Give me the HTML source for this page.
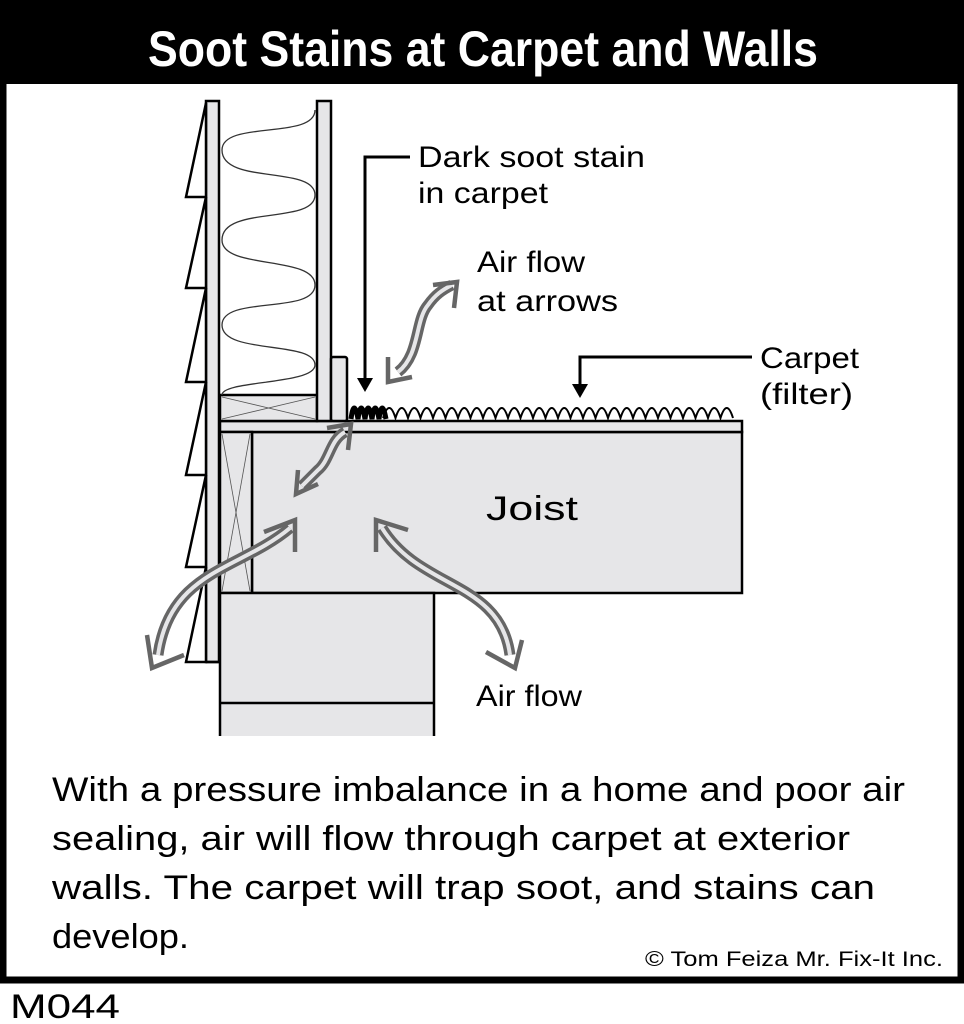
<!DOCTYPE html>
<html><head><meta charset="utf-8"><style>
body{margin:0;background:#fff;}
svg{display:block}
text{font-family:"Liberation Sans",sans-serif;}
</style></head><body>
<svg width="964" height="1024" viewBox="0 0 964 1024" xmlns="http://www.w3.org/2000/svg">
<rect x="0" y="0" width="964" height="1024" fill="#fff"/>
<rect x="0" y="0" width="964" height="84" fill="#000"/>
<rect x="3" y="3" width="958" height="977" fill="none" stroke="#000" stroke-width="7"/>
<text x="148" y="66" fill="#fff" font-size="50" font-weight="bold" textLength="670" lengthAdjust="spacingAndGlyphs">Soot Stains at Carpet and Walls</text>

<g stroke="#000" stroke-width="2.5" fill="#e6e6e8">
<rect x="252" y="432" width="490" height="161"/>
<rect x="220" y="421" width="522" height="11"/>
<rect x="220" y="432" width="32" height="161"/>
<rect x="220" y="593" width="214" height="145"/>
<rect x="206" y="101" width="13" height="561"/>
<rect x="220" y="395" width="97" height="26"/>
<rect x="317" y="101" width="14" height="320"/>
<rect x="331" y="357" width="16" height="64" rx="2"/>
</g>
<rect x="218" y="736" width="218" height="6" fill="#fff"/>
<line x1="220" y1="703" x2="434" y2="703" stroke="#000" stroke-width="2.5"/>
<line x1="206" y1="662" x2="220" y2="662" stroke="#000" stroke-width="2.5"/>
<g stroke="#555" stroke-width="0.8" fill="none">
<line x1="222" y1="397" x2="315" y2="419"/><line x1="222" y1="419" x2="315" y2="397"/>
<line x1="222" y1="434" x2="250" y2="591"/><line x1="250" y1="434" x2="222" y2="591"/>
</g>
<g stroke="#000" stroke-width="2.5" fill="#fff">
<path d="M206 103 L186 197 L206 197 Z"/>
<path d="M206 197 L186 288 L206 288 Z"/>
<path d="M206 288 L186 382 L206 382 Z"/>
<path d="M206 382 L186 475 L206 475 Z"/>
<path d="M206 475 L186 567 L206 567 Z"/>
<path d="M206 567 L186 662 L206 662 Z"/>
</g>
<path d="M315 110 C315 140 222 120 222 150 C222 185 315 165 315 195 C315 225 222 205 222 240 C222 270 315 255 315 285 C315 315 222 295 222 325 C222 355 315 340 315 365 C315 385 222 380 222 395" fill="none" stroke="#333" stroke-width="1.3"/>

<!-- carpet -->
<path d="M383 418 q6.25 -20 12.5 0 q6.25 -20 12.5 0 q6.25 -20 12.5 0 q6.25 -20 12.5 0 q6.25 -20 12.5 0 q6.25 -20 12.5 0 q6.25 -20 12.5 0 q6.25 -20 12.5 0 q6.25 -20 12.5 0 q6.25 -20 12.5 0 q6.25 -20 12.5 0 q6.25 -20 12.5 0 q6.25 -20 12.5 0 q6.25 -20 12.5 0 q6.25 -20 12.5 0 q6.25 -20 12.5 0 q6.25 -20 12.5 0 q6.25 -20 12.5 0 q6.25 -20 12.5 0 q6.25 -20 12.5 0 q6.25 -20 12.5 0 q6.25 -20 12.5 0 q6.25 -20 12.5 0 q6.25 -20 12.5 0 q6.25 -20 12.5 0 q6.25 -20 12.5 0 q6.25 -20 12.5 0 q6.25 -20 12.5 0" fill="none" stroke="#000" stroke-width="2"/>
<path d="M351 419 q3 -22 7 0 q3 -22 7 0 q3 -22 7 0 q3 -22 7 0 q3 -22 7 0" fill="none" stroke="#000" stroke-width="5"/>

<g stroke="#000" stroke-width="3" fill="none">
<polyline points="410,157 365,157 365,380"/>
<polyline points="752,357 580,357 580,388"/>
</g>
<polygon points="357,378 373,378 365,392" fill="#000"/>
<polygon points="572,384 588,384 580,398" fill="#000"/>

<g fill="none">
<g stroke="#666" stroke-width="11">
<path d="M398 372 C420 355 415 320 428 305 C435 295 442 290 452 285"/>
<path d="M345 432 C330 440 330 460 318 470 C312 476 308 480 302 486"/>
<path d="M290 528 C240 570 170 570 158 655"/>
<path d="M382 528 C420 590 500 580 510 655"/>
</g>
<g stroke="#e6e6e8" stroke-width="4">
<path d="M398 372 C420 355 415 320 428 305 C435 295 442 290 452 285"/>
<path d="M345 432 C330 440 330 460 318 470 C312 476 308 480 302 486"/>
<path d="M290 528 C240 570 170 570 158 655"/>
<path d="M382 528 C420 590 500 580 510 655"/>
</g>
<g stroke="#666" stroke-width="4.5">
<polyline points="433,285 457,282 454,308"/>
<polyline points="388,357 388,382 412,377"/>
<polyline points="327,428 351,424 348,450"/>
<polyline points="298,470 296,494 318,484"/>
<polyline points="264,532 295,520 295,552"/>
<polyline points="147,635 152,668 184,655"/>
<polyline points="376,552 376,520 408,530"/>
<polyline points="486,652 515,668 522,640"/>
</g>
</g>

<g font-size="30" fill="#000">
<text x="418" y="167" textLength="227" lengthAdjust="spacingAndGlyphs">Dark soot stain</text>
<text x="418" y="203" textLength="130" lengthAdjust="spacingAndGlyphs">in carpet</text>
<text x="477" y="272" textLength="108" lengthAdjust="spacingAndGlyphs">Air flow</text>
<text x="477" y="311" textLength="141" lengthAdjust="spacingAndGlyphs">at arrows</text>
<text x="760" y="368" textLength="99" lengthAdjust="spacingAndGlyphs">Carpet</text>
<text x="760" y="404" textLength="93" lengthAdjust="spacingAndGlyphs">(filter)</text>
<text x="486" y="520" font-size="34" textLength="92" lengthAdjust="spacingAndGlyphs">Joist</text>
<text x="476" y="706" textLength="106" lengthAdjust="spacingAndGlyphs">Air flow</text>
</g>
<g font-size="34" fill="#000">
<text x="52" y="801" textLength="853" lengthAdjust="spacingAndGlyphs">With a pressure imbalance in a home and poor air</text>
<text x="52" y="850" textLength="798" lengthAdjust="spacingAndGlyphs">sealing, air will flow through carpet at exterior</text>
<text x="52" y="899" textLength="823" lengthAdjust="spacingAndGlyphs">walls.  The carpet will trap soot, and stains can</text>
<text x="52" y="948" textLength="137" lengthAdjust="spacingAndGlyphs">develop.</text>
</g>
<text x="645" y="966" font-size="21" fill="#000" textLength="298" lengthAdjust="spacingAndGlyphs">© Tom Feiza Mr. Fix-It Inc.</text>
<text x="10" y="1018" font-size="34" fill="#000" textLength="110" lengthAdjust="spacingAndGlyphs">M044</text>
</svg>
</body></html>
